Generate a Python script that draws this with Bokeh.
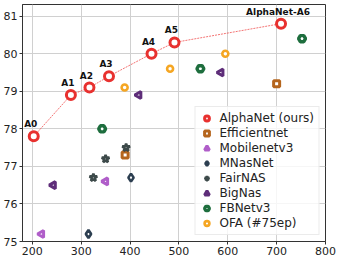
import math
from bokeh.plotting import figure
from bokeh.models import ColumnDataSource, Legend, LegendItem, Range1d, FixedTicker
from bokeh.embed import file_html
from bokeh.resources import INLINE
from bokeh.core.properties import value

alpha_x = [203, 279, 317, 357, 444, 491, 709]
alpha_y = [77.8, 78.9, 79.1, 79.4, 80.0, 80.3, 80.8]
alpha_lbl = ["A0", "A1", "A2", "A3", "A4", "A5", "AlphaNet-A6"]

eff_x = [390, 700]
eff_y = [77.3, 79.2]
mbv3_x = [219, 350]
mbv3_y = [75.2, 76.6]
mnas_x = [315, 402]
mnas_y = [75.2, 76.7]
fair_x = [325, 350, 392]
fair_y = [76.7, 77.2, 77.5]
big_x = [243, 418, 586]
big_y = [76.5, 78.9, 79.5]
fb_x = [343, 544, 752]
fb_y = [78.0, 79.6, 80.4]
ofa_x = [389, 482, 595]
ofa_y = [79.1, 79.6, 80.0]

x_ticks = [200, 300, 400, 500, 600, 700, 800]
y_ticks = [75, 76, 77, 78, 79, 80, 81]

p = figure(width=341, height=262, output_backend="svg", toolbar_location=None,
           x_range=Range1d(180, 800), y_range=Range1d(75, 81.31),
           min_border_left=22, min_border_right=16, min_border_top=4, min_border_bottom=21)
p.background_fill_color = "white"
p.border_fill_color = "white"
p.outline_line_color = "#333333"
p.outline_line_width = 1

for ax in (p.xaxis, p.yaxis):
    ax.major_label_text_font = "DejaVu Sans"
    ax.major_label_text_font_size = "11px"
    ax.major_label_text_color = "#222222"
    ax.axis_line_color = "#333333"
    ax.major_tick_line_color = "#333333"
    ax.major_tick_out = 3
    ax.major_tick_in = 0
    ax.minor_tick_line_color = None
p.xaxis.ticker = FixedTicker(ticks=x_ticks)
p.yaxis.ticker = FixedTicker(ticks=y_ticks)
p.xaxis.major_label_standoff = 2
p.yaxis.major_label_standoff = 2
p.grid.grid_line_color = "#d0d0d0"
p.grid.grid_line_width = 1

items = []

src_a = ColumnDataSource(dict(x=alpha_x, y=alpha_y, t=alpha_lbl))
p.line("x", "y", source=src_a, line_color="#f05050", line_dash="2 1", line_width=0.8)
r = p.scatter("x", "y", source=src_a, marker="circle", size=9, fill_color="white",
              line_color="#e8312f", line_width=3)
items.append(LegendItem(label="AlphaNet (ours)", renderers=[r]))
p.text("x", "y", text="t", source=src_a, text_font=value("DejaVu Sans"), text_font_size="9px",
       text_font_style="bold", text_align="center", text_baseline="middle",
       x_offset=-3, y_offset=-12, text_color="#111111")

def add(xs, ys, marker, color, label, size=8, lw=3.0, angle=0.0):
    r = p.scatter(xs, ys, marker=marker, size=size, fill_color="white",
                  line_color=color, line_width=lw, angle=angle)
    items.append(LegendItem(label=label, renderers=[r]))

add(eff_x, eff_y, "square", "#b5651d", "Efficientnet", size=6)
add(mbv3_x, mbv3_y, "triangle", "#b05ec9", "Mobilenetv3", size=7, angle=math.pi / 2)
add(mnas_x, mnas_y, "diamond", "#2c3e50", "MNasNet", size=8, lw=2.6)
add(fair_x, fair_y, "star", "#3d4a4a", "FairNAS", size=8, lw=2.6)
add(big_x, big_y, "triangle", "#5e2d79", "BigNas", size=7, angle=math.pi / 2)
add(fb_x, fb_y, "hex", "#1e6e3e", "FBNetv3", size=7, lw=3.4)
add(ofa_x, ofa_y, "circle", "#f5a623", "OFA (#75ep)", size=6, lw=2.6)

legend = Legend(items=items, location="bottom_right", margin=6)
legend.label_text_font = "DejaVu Sans"
legend.label_text_font_size = "12px"
legend.label_text_color = "#222222"
legend.label_standoff = 6
legend.label_height = 12
legend.glyph_height = 12
legend.glyph_width = 14
legend.spacing = 1
legend.padding = 4
legend.border_line_color = "#d8d8d8"
legend.border_line_width = 1
legend.background_fill_alpha = 0.8
p.add_layout(legend, "center")

open("out.html", "w").write(file_html(p, INLINE))
